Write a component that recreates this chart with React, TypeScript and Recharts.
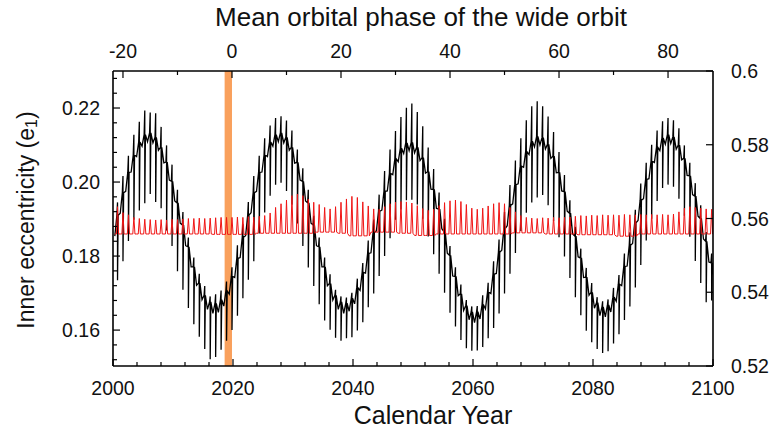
import React from 'react';
import { LineChart, Line, XAxis, YAxis, ReferenceArea } from 'recharts';

// one entry per periastron passage of the wide orbit (mean orbital phase)
const phases = [
  -21, -20, -19, -18, -17, -16, -15, -14, -13, -12, -11, -10, -9, -8, -7, -6, -5, -4, -3, -2, -1,
  0, 1, 2, 3, 4, 5, 6, 7, 8, 9, 10, 11, 12, 13, 14, 15, 16, 17, 18, 19, 20, 21, 22, 23, 24, 25, 26, 27, 28, 29,
  30, 31, 32, 33, 34, 35, 36, 37, 38, 39, 40, 41, 42, 43, 44, 45, 46, 47, 48, 49, 50, 51, 52, 53, 54, 55, 56, 57,
  58, 59, 60, 61, 62, 63, 64, 65, 66, 67, 68, 69, 70, 71, 72, 73, 74, 75, 76, 77, 78, 79, 80, 81, 82, 83, 84, 85,
  86, 87, 88,
];

// inner eccentricity half way between passages (phase - 0.5, last one at 88.5)
const blackMid = [
  0.1854, 0.1916, 0.1975, 0.2027, 0.2069, 0.2097, 0.2109, 0.2106, 0.2086, 0.2052,
  0.2005, 0.1949, 0.1889, 0.1828, 0.1771, 0.1721, 0.1682, 0.1656, 0.1645, 0.1648,
  0.1665, 0.1697, 0.1742, 0.1796, 0.1855, 0.1917, 0.1975, 0.2027, 0.2069, 0.2097,
  0.2109, 0.2106, 0.2086, 0.2051, 0.2005, 0.1949, 0.1889, 0.1828, 0.1771, 0.1720,
  0.1681, 0.1656, 0.1645, 0.1651, 0.1671, 0.1707, 0.1754, 0.1809, 0.1868, 0.1924,
  0.1976, 0.2020, 0.2055, 0.2077, 0.2085, 0.2079, 0.2058, 0.2024, 0.1981, 0.1929,
  0.1874, 0.1808, 0.1746, 0.1693, 0.1653, 0.1628, 0.1620, 0.1630, 0.1657, 0.1699,
  0.1753, 0.1816, 0.1882, 0.1941, 0.1995, 0.2040, 0.2074, 0.2095, 0.2100, 0.2089,
  0.2064, 0.2025, 0.1976, 0.1921, 0.1860, 0.1798, 0.1742, 0.1694, 0.1659, 0.1639,
  0.1636, 0.1649, 0.1678, 0.1720, 0.1773, 0.1834, 0.1896, 0.1955, 0.2009, 0.2053,
  0.2085, 0.2102, 0.2104, 0.2089, 0.2060, 0.2018, 0.1966, 0.1908, 0.1846, 0.1784,
  0.1730,
];

// level of the curve at the foot of each spike (small cusp above the trough)
const blackBase = [
  0.1910, 0.1971, 0.2026, 0.2073, 0.2108, 0.2128, 0.2133, 0.2121, 0.2094, 0.2054,
  0.2002, 0.1944, 0.1884, 0.1825, 0.1771, 0.1727, 0.1694, 0.1676, 0.1672, 0.1682,
  0.1706, 0.1745, 0.1794, 0.1851, 0.1911, 0.1971, 0.2026, 0.2073, 0.2108, 0.2128,
  0.2133, 0.2121, 0.2094, 0.2053, 0.2002, 0.1944, 0.1884, 0.1825, 0.1771, 0.1726,
  0.1694, 0.1676, 0.1673, 0.1686, 0.1714, 0.1756, 0.1807, 0.1864, 0.1921, 0.1975,
  0.2023, 0.2063, 0.2091, 0.2106, 0.2107, 0.2094, 0.2066, 0.2028, 0.1980, 0.1927,
  0.1866, 0.1802, 0.1745, 0.1698, 0.1666, 0.1649, 0.1650, 0.1669, 0.1703, 0.1751,
  0.1810, 0.1874, 0.1937, 0.1993, 0.2043, 0.2082, 0.2110, 0.2123, 0.2120, 0.2102,
  0.2070, 0.2026, 0.1974, 0.1916, 0.1854, 0.1795, 0.1743, 0.1702, 0.1674, 0.1663,
  0.1668, 0.1689, 0.1724, 0.1772, 0.1829, 0.1890, 0.1951, 0.2007, 0.2056, 0.2094,
  0.2119, 0.2128, 0.2122, 0.2100, 0.2064, 0.2017, 0.1962, 0.1902, 0.1840, 0.1782,
];

// top and bottom of the spike at each passage
const blackHigh = [
  0.1945, 0.2016, 0.2071, 0.2128, 0.2163, 0.2193, 0.2188, 0.2186, 0.2149, 0.2099,
  0.2047, 0.1979, 0.1919, 0.1850, 0.1796, 0.1752, 0.1719, 0.1691, 0.1697, 0.1707,
  0.1731, 0.1770, 0.1829, 0.1886, 0.1946, 0.2016, 0.2071, 0.2118, 0.2153, 0.2173,
  0.2178, 0.2166, 0.2139, 0.2088, 0.2037, 0.1979, 0.1909, 0.1850, 0.1796, 0.1751,
  0.1709, 0.1691, 0.1688, 0.1701, 0.1739, 0.1781, 0.1842, 0.1899, 0.1966, 0.2030,
  0.2088, 0.2138, 0.2176, 0.2201, 0.2212, 0.2189, 0.2151, 0.2093, 0.2035, 0.1972,
  0.1901, 0.1827, 0.1770, 0.1723, 0.1681, 0.1664, 0.1665, 0.1694, 0.1728, 0.1786,
  0.1845, 0.1919, 0.1992, 0.2058, 0.2118, 0.2167, 0.2205, 0.2218, 0.2205, 0.2177,
  0.2135, 0.2081, 0.2019, 0.1951, 0.1879, 0.1820, 0.1768, 0.1727, 0.1689, 0.1678,
  0.1683, 0.1714, 0.1749, 0.1807, 0.1864, 0.1925, 0.1996, 0.2052, 0.2101, 0.2139,
  0.2164, 0.2173, 0.2167, 0.2145, 0.2099, 0.2052, 0.1997, 0.1937, 0.1865, 0.1807,
];

const blackLow = [
  0.1735, 0.1786, 0.1841, 0.1898, 0.1923, 0.1943, 0.1968, 0.1946, 0.1929, 0.1869,
  0.1827, 0.1759, 0.1709, 0.1660, 0.1616, 0.1582, 0.1549, 0.1521, 0.1527, 0.1547,
  0.1571, 0.1600, 0.1639, 0.1686, 0.1736, 0.1786, 0.1861, 0.1918, 0.1963, 0.1993,
  0.1998, 0.1976, 0.1939, 0.1888, 0.1827, 0.1769, 0.1719, 0.1670, 0.1626, 0.1601,
  0.1579, 0.1571, 0.1578, 0.1581, 0.1599, 0.1621, 0.1662, 0.1699, 0.1746, 0.1800,
  0.1848, 0.1898, 0.1926, 0.1951, 0.1952, 0.1939, 0.1901, 0.1853, 0.1805, 0.1752,
  0.1701, 0.1647, 0.1610, 0.1573, 0.1551, 0.1544, 0.1545, 0.1554, 0.1578, 0.1606,
  0.1645, 0.1699, 0.1752, 0.1808, 0.1868, 0.1917, 0.1945, 0.1958, 0.1965, 0.1937,
  0.1895, 0.1851, 0.1799, 0.1741, 0.1689, 0.1640, 0.1598, 0.1567, 0.1549, 0.1538,
  0.1543, 0.1564, 0.1589, 0.1627, 0.1664, 0.1715, 0.1776, 0.1842, 0.1901, 0.1949,
  0.1984, 0.1993, 0.1987, 0.1955, 0.1909, 0.1852, 0.1787, 0.1727, 0.1675, 0.1680,
];

// red curve (right axis): level between spikes and spike tops
const redBase = [
  0.5558, 0.5558, 0.5558, 0.5558, 0.5558, 0.5558, 0.5558, 0.5558, 0.5558, 0.5558,
  0.5558, 0.5558, 0.5558, 0.5558, 0.5558, 0.5558, 0.5558, 0.5558, 0.5557, 0.5557,
  0.5557, 0.5557, 0.5557, 0.5557, 0.5557, 0.5557, 0.5560, 0.5560, 0.5560, 0.5560,
  0.5560, 0.5560, 0.5560, 0.5560, 0.5560, 0.5560, 0.5560, 0.5563, 0.5563, 0.5563,
  0.5563, 0.5560, 0.5560, 0.5553, 0.5553, 0.5553, 0.5553, 0.5563, 0.5563, 0.5563,
  0.5563, 0.5563, 0.5560, 0.5560, 0.5560, 0.5554, 0.5554, 0.5554, 0.5554, 0.5558,
  0.5558, 0.5558, 0.5558, 0.5558, 0.5558, 0.5558, 0.5558, 0.5558, 0.5558, 0.5558,
  0.5558, 0.5558, 0.5558, 0.5561, 0.5561, 0.5561, 0.5561, 0.5561, 0.5561, 0.5558,
  0.5558, 0.5558, 0.5558, 0.5558, 0.5558, 0.5556, 0.5556, 0.5556, 0.5556, 0.5556,
  0.5556, 0.5556, 0.5552, 0.5552, 0.5552, 0.5552, 0.5558, 0.5558, 0.5558, 0.5558,
  0.5558, 0.5558, 0.5558, 0.5558, 0.5558, 0.5558, 0.5558, 0.5558, 0.5558, 0.5558,
];

const redPeak = [
  0.5632, 0.5616, 0.5610, 0.5603, 0.5600, 0.5598, 0.5597, 0.5596, 0.5597, 0.5596,
  0.5598, 0.5597, 0.5599, 0.5600, 0.5600, 0.5601, 0.5600, 0.5601, 0.5602, 0.5603,
  0.5603, 0.5603, 0.5604, 0.5603, 0.5605, 0.5604, 0.5606, 0.5608, 0.5615, 0.5630,
  0.5640, 0.5650, 0.5662, 0.5666, 0.5662, 0.5652, 0.5644, 0.5638, 0.5630, 0.5626,
  0.5632, 0.5644, 0.5653, 0.5660, 0.5657, 0.5645, 0.5634, 0.5626, 0.5625, 0.5632,
  0.5640, 0.5644, 0.5646, 0.5645, 0.5642, 0.5635, 0.5627, 0.5622, 0.5625, 0.5635,
  0.5643, 0.5648, 0.5650, 0.5646, 0.5638, 0.5628, 0.5625, 0.5628, 0.5634, 0.5640,
  0.5643, 0.5640, 0.5630, 0.5618, 0.5608, 0.5603, 0.5601, 0.5600, 0.5602, 0.5601,
  0.5603, 0.5602, 0.5603, 0.5604, 0.5606, 0.5608, 0.5607, 0.5609, 0.5608, 0.5610,
  0.5609, 0.5610, 0.5609, 0.5611, 0.5610, 0.5610, 0.5611, 0.5610, 0.5611, 0.5610,
  0.5611, 0.5610, 0.5612, 0.5618, 0.5628, 0.5632, 0.5630, 0.5628, 0.5626, 0.5625,
];

const yearRange = [2000, 2100];
const yearTicks = [
  2000, 2004, 2008, 2012, 2016, 2020, 2024, 2028, 2032, 2036, 2040, 2044, 2048,
  2052, 2056, 2060, 2064, 2068, 2072, 2076, 2080, 2084, 2088, 2092, 2096, 2100,
];
const yearLabels = [2000, 2020, 2040, 2060, 2080, 2100];
const phaseTicks = [-20, -10, 0, 10, 20, 30, 40, 50, 60, 70, 80];
const phaseLabels = [-20, 0, 20, 40, 60, 80];
const leftTicks = [
  0.152, 0.156, 0.16, 0.164, 0.168, 0.172, 0.176, 0.18, 0.184, 0.188,
  0.192, 0.196, 0.2, 0.204, 0.208, 0.212, 0.216, 0.22, 0.224, 0.228,
];
const leftLabels = [0.16, 0.18, 0.2, 0.22];
const rightTicks = [0.52, 0.54, 0.56, 0.58, 0.6];

// today marker (orange band) in phase units
const bandFrom = -1.35;
const bandTo = 0;

type Row = { phase: number; black?: number; red?: number };

const rows: Row[] = [];
phases.forEach((n, i) => {
  rows.push({ phase: n - 0.5, black: blackMid[i], red: redBase[i] });
  rows.push({ phase: n - 0.2, red: redBase[i] });
  rows.push({ phase: n - 0.12, black: blackBase[i] });
  rows.push({ phase: n, black: blackHigh[i], red: redPeak[i] });
  rows.push({ phase: n, black: blackLow[i] });
  rows.push({ phase: n + 0.12, black: blackBase[i] });
  rows.push({ phase: n + 0.2, red: redBase[i] });
});
rows.push({ phase: 88.5, black: blackMid[blackMid.length - 1], red: redBase[redBase.length - 1] });

// only gives the calendar-year axis its range, draws nothing
const yearRows = yearRange.map((year) => ({ year }));

const FONT = '"Liberation Sans", Arial, Helvetica, sans-serif';
const TICK_FS = 19.5;
const TITLE_FS = 26;

const isLabel = (v: number, labels: number[]) => labels.some((l) => Math.abs(l - v) < 1e-9);

const makeTick =
  (side: 'bottom' | 'top' | 'left' | 'right', labels: number[], fmt: (v: number) => string) =>
  (props: any) => {
    const { x, y, payload } = props;
    const v = payload.value as number;
    const major = isLabel(v, labels);
    const len = major ? 7 : 4;
    let line: [number, number, number, number];
    let text: React.ReactNode = null;
    const common = { fontFamily: FONT, fontSize: TICK_FS, fill: '#111' };
    if (side === 'bottom') {
      line = [x, y, x, y - len];
      if (major)
        text = (
          <text x={x} y={y + 22} textAnchor="middle" dominantBaseline="central" {...common}>
            {fmt(v)}
          </text>
        );
    } else if (side === 'top') {
      line = [x, y, x, y + len];
      if (major)
        text = (
          <text x={x} y={y - 20} textAnchor="middle" dominantBaseline="central" {...common}>
            {fmt(v)}
          </text>
        );
    } else if (side === 'left') {
      line = [x, y, x + len, y];
      if (major)
        text = (
          <text x={x - 13} y={y} textAnchor="end" dominantBaseline="central" {...common}>
            {fmt(v)}
          </text>
        );
    } else {
      line = [x, y, x - len, y];
      if (major)
        text = (
          <text x={x + 18} y={y} textAnchor="start" dominantBaseline="central" {...common}>
            {fmt(v)}
          </text>
        );
    }
    return (
      <g>
        <line x1={line[0]} y1={line[1]} x2={line[2]} y2={line[3]} stroke="#000" strokeWidth={1.2} />
        {text}
      </g>
    );
  };

const axisLine = { stroke: '#000', strokeWidth: 1.6 };

export default function App() {
  return (
    <div style={{ position: 'absolute', left: 0, top: 0, width: 770, height: 431, background: '#fff' }}>
      <LineChart width={770} height={431} data={rows} margin={{ top: 0, right: 0, bottom: 0, left: 0 }}>
        <XAxis
          xAxisId="year"
          orientation="bottom"
          type="number"
          dataKey="year"
          domain={[2000, 2100]}
          allowDataOverflow
          ticks={yearTicks}
          interval={0}
          height={65}
          tickSize={0}
          tickMargin={0}
          tickLine={false}
          axisLine={axisLine}
          tick={makeTick('bottom', yearLabels, (v) => String(v))}
          label={{
            content: () => (
              <text x={433} y={415} textAnchor="middle" dominantBaseline="central" fontFamily={FONT} fontSize={25} fill="#111">
                Calendar Year
              </text>
            ),
          }}
        />
        <XAxis
          xAxisId="phase"
          orientation="top"
          type="number"
          dataKey="phase"
          domain={[-21.83, 88.25]}
          allowDataOverflow
          ticks={phaseTicks}
          interval={0}
          height={71}
          tickSize={0}
          tickMargin={0}
          tickLine={false}
          axisLine={axisLine}
          tick={makeTick('top', phaseLabels, (v) => String(v))}
          label={{
            content: () => (
              <text x={421} y={17} textAnchor="middle" dominantBaseline="central" fontFamily={FONT} fontSize={TITLE_FS} fill="#111">
                Mean orbital phase of the wide orbit
              </text>
            ),
          }}
        />
        <YAxis
          yAxisId="left"
          orientation="left"
          type="number"
          domain={[0.1503, 0.23]}
          allowDataOverflow
          ticks={leftTicks}
          interval={0}
          width={113}
          tickSize={0}
          tickMargin={0}
          tickLine={false}
          axisLine={axisLine}
          tick={makeTick('left', leftLabels, (v) => v.toFixed(2))}
          label={{
            content: () => (
              <text
                transform="translate(26, 220) rotate(-90)"
                textAnchor="middle"
                dominantBaseline="central"
                fontFamily={FONT}
                fontSize={23}
                fill="#111"
              >
                Inner eccentricity (e
                <tspan fontSize={16} dy={5}>
                  1
                </tspan>
                <tspan dy={-5}>)</tspan>
              </text>
            ),
          }}
        />
        <YAxis
          yAxisId="right"
          orientation="right"
          type="number"
          domain={[0.52, 0.6]}
          allowDataOverflow
          ticks={rightTicks}
          interval={0}
          width={57}
          tickSize={0}
          tickMargin={0}
          tickLine={false}
          axisLine={axisLine}
          tick={makeTick('right', rightTicks, (v) => String(Math.round(v * 100) / 100))}
        />
        <ReferenceArea
          xAxisId="phase"
          yAxisId="left"
          x1={bandFrom}
          x2={bandTo}
          fill="#f9a05c"
          fillOpacity={1}
          stroke="none"
          ifOverflow="hidden"
        />
        <Line
          xAxisId="year"
          yAxisId="left"
          data={yearRows}
          dataKey="none"
          stroke="none"
          dot={false}
          activeDot={false}
          legendType="none"
          isAnimationActive={false}
        />
        <Line
          xAxisId="phase"
          yAxisId="left"
          dataKey="black"
          type="linear"
          stroke="#000"
          strokeWidth={1.3}
          dot={false}
          activeDot={false}
          connectNulls
          isAnimationActive={false}
        />
        <Line
          xAxisId="phase"
          yAxisId="right"
          dataKey="red"
          type="linear"
          stroke="#f01414"
          strokeWidth={1}
          dot={false}
          activeDot={false}
          connectNulls
          isAnimationActive={false}
        />
      </LineChart>
    </div>
  );
}
